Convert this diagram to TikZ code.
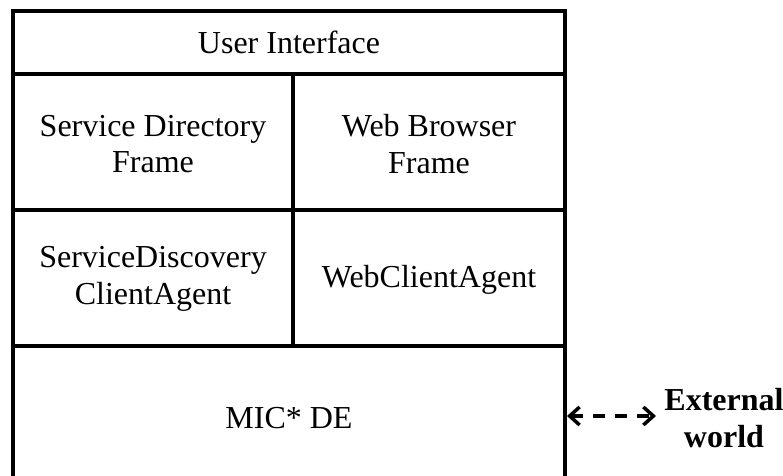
\documentclass[tikz,border=0pt]{standalone}
\usepackage{fontspec}
\setmainfont{Liberation Serif}
\usetikzlibrary{arrows.meta}

\begin{document}
\begin{tikzpicture}[x=0.5pt, y=-0.5pt, line width=1.75pt,
  cell/.style={align=center, font=\fontsize{16}{18.4}\selectfont},
  ext/.style={align=center, font=\fontsize{16}{18.4}\selectfont\bfseries}]
\useasboundingbox (0,0) rectangle (783,476);
% frame and dividers
\draw (13,480) -- (13,11) -- (565,11) -- (565,480);
\draw (13,74) -- (565,74);
\draw (13,210) -- (565,210);
\draw (13,346) -- (565,346);
\draw (293,74) -- (293,346);
% cells
\node[cell] (ui) at (289,42) {User Interface};
\node[cell] (sdf) at (153,144) {Service Directory\\Frame};
\node[cell] (wbf) at (429,144) {Web Browser\\Frame};
\node[cell] (sdca) at (153,279) {ServiceDiscovery\\ClientAgent};
\node[cell] (wca) at (429,280) {WebClientAgent};
\node[cell] (de) at (289,418) {MIC* DE};
\coordinate (deedge) at (567,416);
\node[ext, anchor=west] (ext) at (656,418) {External\\world};
\draw[dash pattern=on 6pt off 5pt, {Straight Barb[length=5pt,width=9pt]}-{Straight Barb[length=5pt,width=9pt]}] (deedge) -- (ext.west |- deedge);
\end{tikzpicture}
\end{document}
